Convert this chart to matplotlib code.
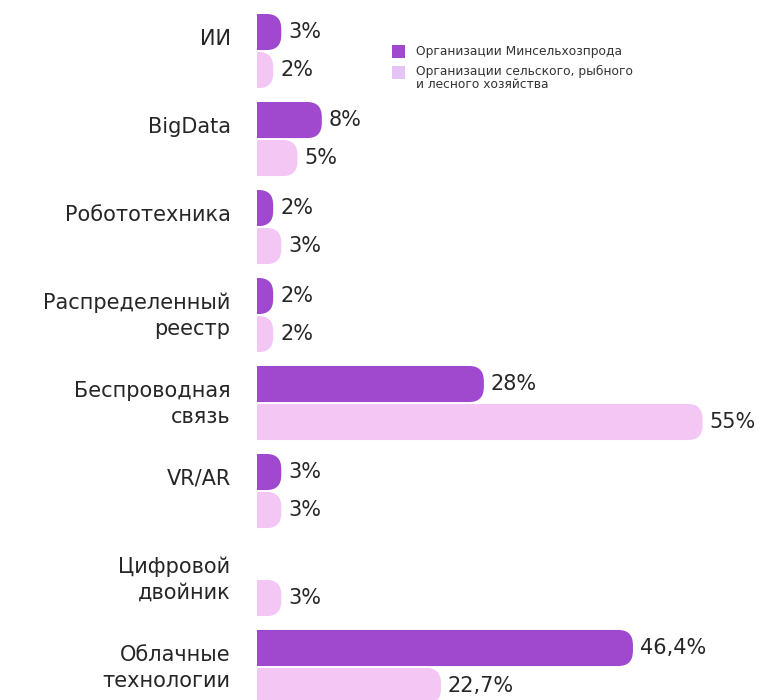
import numpy as np
import matplotlib
matplotlib.use("Agg")
import matplotlib.pyplot as plt
from matplotlib.patches import FancyBboxPatch, Rectangle

# ── data ─────────────────────────────────────────────────────────────────────
categories = ["ИИ", "BigData", "Робототехника", "Распределенный\nреестр",
              "Беспроводная\nсвязь", "VR/AR", "Цифровой\nдвойник",
              "Облачные\nтехнологии"]
ministry = [3, 8, 2, 2, 28, 3, np.nan, 46.4]
industry = [2, 5, 3, 2, 55, 3, 3, 22.7]
series_names = ["Организации Минсельхозпрода",
                "Организации сельского, рыбного\nи лесного хозяйства"]

DARK = "#A049CE"
LIGHT = "#F3C6F4"
TEXT = "#262626"

plt.rcParams["font.family"] = ["DejaVu Sans"]


def fmt(v):
    if float(v).is_integer():
        return f"{int(v)}%"
    return f"{v:.1f}%".replace(".", ",")


fig = plt.figure(figsize=(7.65, 7.0), dpi=100)
ax = fig.add_axes([257 / 765, 0, 1 - 257 / 765, 1])
ax.set_xlim(0, 62.7)
ax.set_ylim(7.375, -0.58)
ax.axis("off")

bar_h = 0.41
offset = 0.216
radius = 1.8

for i, cat in enumerate(categories):
    for val, dy, color in ((ministry[i], -offset, DARK), (industry[i], offset, LIGHT)):
        if np.isnan(val):
            continue
        y0 = i + dy - bar_h / 2
        # rounded box starts left of zero so only the right corners show
        patch = FancyBboxPatch((-radius * 2, y0), val + radius * 2, bar_h,
                               boxstyle=f"round,pad=0,rounding_size={radius}",
                               mutation_aspect=bar_h / (radius * 2.4),
                               fc=color, ec="none", clip_on=True)
        ax.add_patch(patch)
        ax.annotate(fmt(val), (val, i + dy), xytext=(5, 0),
                    textcoords="offset points", va="center", ha="left",
                    fontsize=15, color=TEXT)

    nlines = cat.count("\n") + 1
    ly = i - 0.14 if nlines == 1 else i + 0.01
    ax.annotate(cat, (0, ly), xytext=(-19, 0), textcoords="offset points",
                ha="right", va="center", fontsize=15, color=TEXT,
                linespacing=1.35, annotation_clip=False)

# legend
fig.add_artist(Rectangle((392 / 765, 1 - 58 / 700), 13 / 765, 13 / 700,
                         transform=fig.transFigure, fc=DARK, ec="none"))
fig.add_artist(Rectangle((392 / 765, 1 - 79 / 700), 13 / 765, 13 / 700,
                         transform=fig.transFigure, fc="#E6C3F5", ec="none"))
fig.text(416 / 765, 1 - 51 / 700, series_names[0], fontsize=8.8,
         color="#333333", va="center")
fig.text(416 / 765, 1 - 65 / 700, series_names[1], fontsize=8.8,
         color="#333333", va="top", linespacing=0.95)

fig.savefig("out.png", dpi=100)
